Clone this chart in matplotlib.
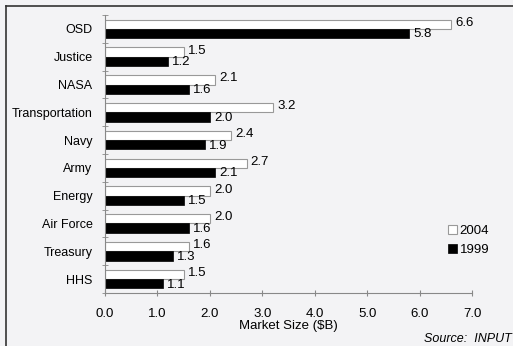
import matplotlib.pyplot as plt
import numpy as np

plt.rcParams['font.family'] = ['Liberation Sans', 'DejaVu Sans']

# agencies, top to bottom
agencies = ['OSD', 'Justice', 'NASA', 'Transportation', 'Navy', 'Army',
            'Energy', 'Air Force', 'Treasury', 'HHS']
size_2004 = [6.6, 1.5, 2.1, 3.2, 2.4, 2.7, 2.0, 2.0, 1.6, 1.5]
size_1999 = [5.8, 1.2, 1.6, 2.0, 1.9, 2.1, 1.5, 1.6, 1.3, 1.1]
x_ticks = [0.0, 1.0, 2.0, 3.0, 4.0, 5.0, 6.0, 7.0]

bg = '#f3f3f5'
fig = plt.figure(figsize=(5.13, 3.46), dpi=100, facecolor=bg)
ax = fig.add_axes([0.2047, 0.1532, 0.7154, 0.8034])
ax.set_facecolor(bg)

y = np.arange(len(agencies))
h = 0.335
ax.barh(y - h / 2, size_2004, height=h, color='white', edgecolor='#999999',
        linewidth=0.8, label='2004')
ax.barh(y + h / 2, size_1999, height=h, color='black', edgecolor='black',
        linewidth=0.5, label='1999')

for yi, v in zip(y, size_2004):
    ax.text(v + 0.08, yi - h / 2 - 0.05, f'{v:.1f}', va='center', ha='left', fontsize=9.5)
for yi, v in zip(y, size_1999):
    ax.text(v + 0.08, yi + h / 2 + 0.03, f'{v:.1f}', va='center', ha='left', fontsize=9.5)

ax.set_xlim(0, 7)
ax.set_ylim(len(agencies) - 0.5, -0.5)
ax.set_xticks(x_ticks)
ax.set_xticklabels([f'{t:.1f}' for t in x_ticks], fontsize=9.5)
ax.set_yticks(y)
ax.set_yticklabels(agencies, fontsize=9)
ax.set_yticks(np.arange(len(agencies) + 1) - 0.5, minor=True)
ax.tick_params(axis='y', which='major', length=0, pad=9)
ax.tick_params(axis='y', which='minor', length=5, direction='inout', color='#888888')
ax.tick_params(axis='x', length=5, direction='inout', color='#888888', pad=8)
ax.set_xlabel('Market Size ($B)', fontsize=9.5, labelpad=0)

for s in ['top', 'right']:
    ax.spines[s].set_visible(False)
for s in ['left', 'bottom']:
    ax.spines[s].set_color('#888888')
    ax.spines[s].set_linewidth(0.8)

ax.legend(frameon=False, loc='lower left', bbox_to_anchor=(0.92, 0.115),
          fontsize=9.5, handlelength=0.7, handleheight=0.7, handletextpad=0.2,
          labelspacing=0.5, borderaxespad=0)

fig.text(0.997, 0.012, 'Source:  INPUT', fontsize=9, style='italic', ha='right')

# scanned page frame
fig.add_artist(plt.Line2D([0.011, 0.011], [0, 0.983], transform=fig.transFigure,
                          color='#333333', linewidth=1.2))
fig.add_artist(plt.Line2D([0.011, 1.0], [0.983, 0.983], transform=fig.transFigure,
                          color='#333333', linewidth=1.2))

fig.savefig('out.png', dpi=100, facecolor=bg)
